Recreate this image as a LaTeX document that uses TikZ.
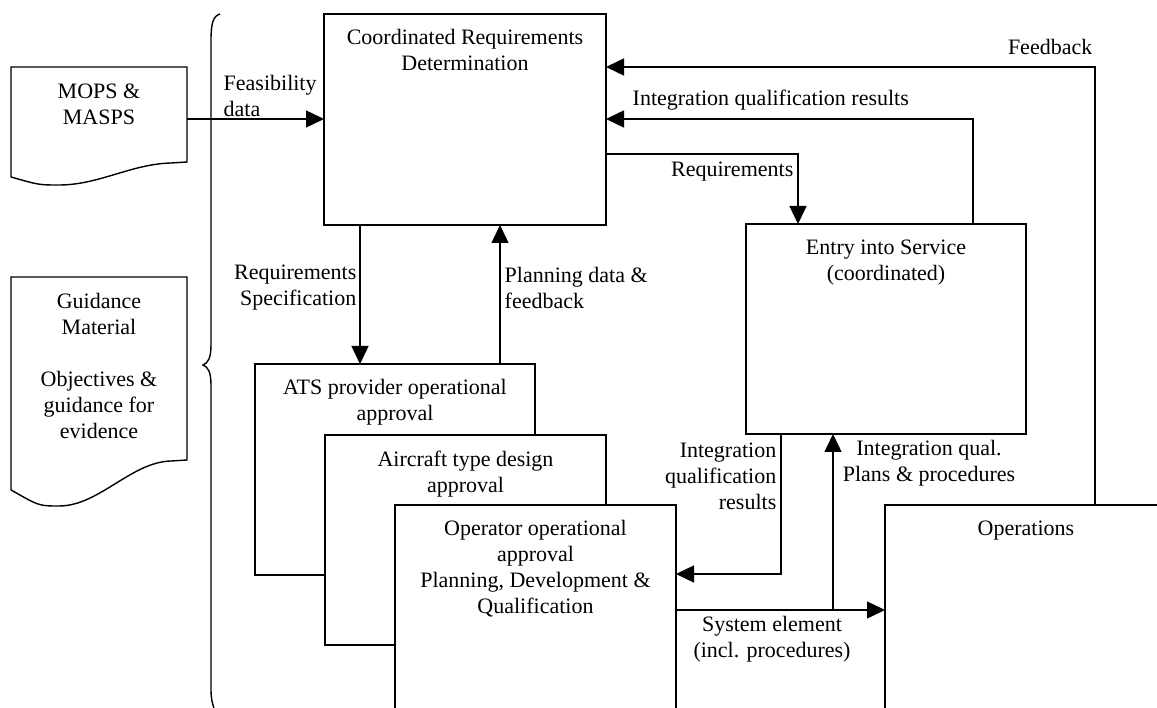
\documentclass[tikz,border=0pt]{standalone}
\usepackage{fontspec}
\setmainfont{Liberation Serif}
\usetikzlibrary{arrows.meta}
\usetikzlibrary{calc}
\usetikzlibrary{positioning}
\tikzstyle{block} = [draw, fill=white,
	inner sep=0pt, outer sep=0pt,
	anchor=north west]
\tikzstyle{arrow} = [-{Triangle[length=18pt, width=17pt]}]
\tikzstyle{lbl} = [inner sep=0pt]
\newcommand{\drawdoc}[4]{\coordinate (#1) at (#2);
	\draw[fill=white] (#1) -- ++(176,0) -- ++(0,#3) -- ++(-16,1)
	.. controls +(-40,1) and +(40,0) .. ++(-112,#4-1)
	.. controls +(-20,0) .. ++(-48,-0.35*#4) -- cycle}

\begin{document}
\begin{tikzpicture}[x=1pt, y=-1pt, line width=1.4pt,
	font=\fontsize{22}{26}\selectfont]
	\useasboundingbox (0,0) rectangle (1157,708);
	\fill[white] (0,0) rectangle (1157,708);
	\clip (0,0) rectangle (1157,708);

	\drawdoc{mopsdoc}{11,67}{95}{23};
	\node (mops) [lbl, align=center] at (99,104) {MOPS \&\\MASPS};
	\drawdoc{guidedoc}{11,277}{183}{46};
	\node (guide) [lbl, align=center] at (99,366) {Guidance\\Material\\[26pt]Objectives \&\\guidance for\\evidence};

	\draw (220,14) .. controls (213,16) and (211,24) .. (211,40) -- (211,345)
		.. controls (211,358) and (208,363) .. (203,365)
		.. controls (208,367) and (211,372) .. (211,385) -- (211,690)
		.. controls (211,700) and (213,705) .. (215,712);

	\node (crd) [block, minimum width=282pt, minimum height=211pt] at (324,14) {};
	\node (crdtxt) [lbl, align=center, below=15pt of crd.north] {Coordinated Requirements\\Determination};
	\node (eis) [block, minimum width=280pt, minimum height=210pt] at (746,224) {};
	\node (eistxt) [lbl, align=center, below=15pt of eis.north] {Entry into Service\\(coordinated)};
	\node (ats) [block, minimum width=280pt, minimum height=211pt] at (255,364) {};
	\node (atstxt) [lbl, align=center, below=15pt of ats.north] {ATS provider operational\\approval};
	\node (act) [block, minimum width=281pt, minimum height=210pt] at (325,435) {};
	\node (acttxt) [lbl, align=center, below=15pt of act.north] {Aircraft type design\\approval};
	\node (opr) [block, minimum width=281pt, minimum height=240pt] at (395,505) {};
	\node (oprtxt) [lbl, align=center, below=15pt of opr.north] {Operator operational\\approval\\Planning, Development \&\\Qualification};
	\node (ops) [block, minimum width=282pt, minimum height=240pt] at (885,505) {};
	\node (opstxt) [lbl, below=15pt of ops.north] {Operations};

	\coordinate (feas) at ($(mopsdoc)+(176,52)$);
	\draw [arrow] (feas) -- (feas -| crd.west);
	\node (feaslbl) [lbl, align=left, anchor=west] at (223,96) {Feasibility\\data};

	\draw [arrow] ($(crd.south west)+(36,0)$) -- ($(ats.north west)+(105,0)$);
	\node (speclbl) [lbl, align=right, anchor=east] at (357,288) {Requirements\\Specification};
	\draw [arrow] ($(ats.north west)+(245,0)$) -- ($(crd.south west)+(176,0)$);
	\node (planlbl) [lbl, align=left, anchor=west] at (504,288) {Planning data \&\\feedback};

	\draw [arrow] ($(ops.north west)+(210,0)$) |- ($(crd.north east)+(0,53)$);
	\node (fblbl) [lbl, anchor=east] at (1093,47) {Feedback};
	\draw [arrow] ($(eis.north west)+(227,0)$) |- ($(crd.north east)+(0,105)$);
	\node (iqrlbl) [lbl, anchor=west] at (632,100) {Integration qualification results};
	\draw [arrow] ($(crd.north east)+(0,140)$) -| ($(eis.north west)+(52,0)$);
	\node (reqlbl) [lbl, anchor=east] at (794,172) {Requirements};

	\draw [arrow] ($(eis.south west)+(35,0)$) |- ($(opr.north east)+(0,69)$);
	\node (iqr2lbl) [lbl, align=right, anchor=east] at (777,476) {Integration\\qualification\\results};
	\draw [arrow] ($(opr.north east)+(0,105)$) -- ($(ops.north west)+(0,105)$);
	\node (syslbl) [lbl, align=center] at (772,639) {System element\\(incl. procedures)};
	\draw [arrow] ($(opr.north east)+(157,105)$) -- ($(eis.south west)+(87,0)$);
	\node (iqplbl) [lbl, align=center] at (929,463) {Integration qual.\\Plans \& procedures};
\end{tikzpicture}
\end{document}
